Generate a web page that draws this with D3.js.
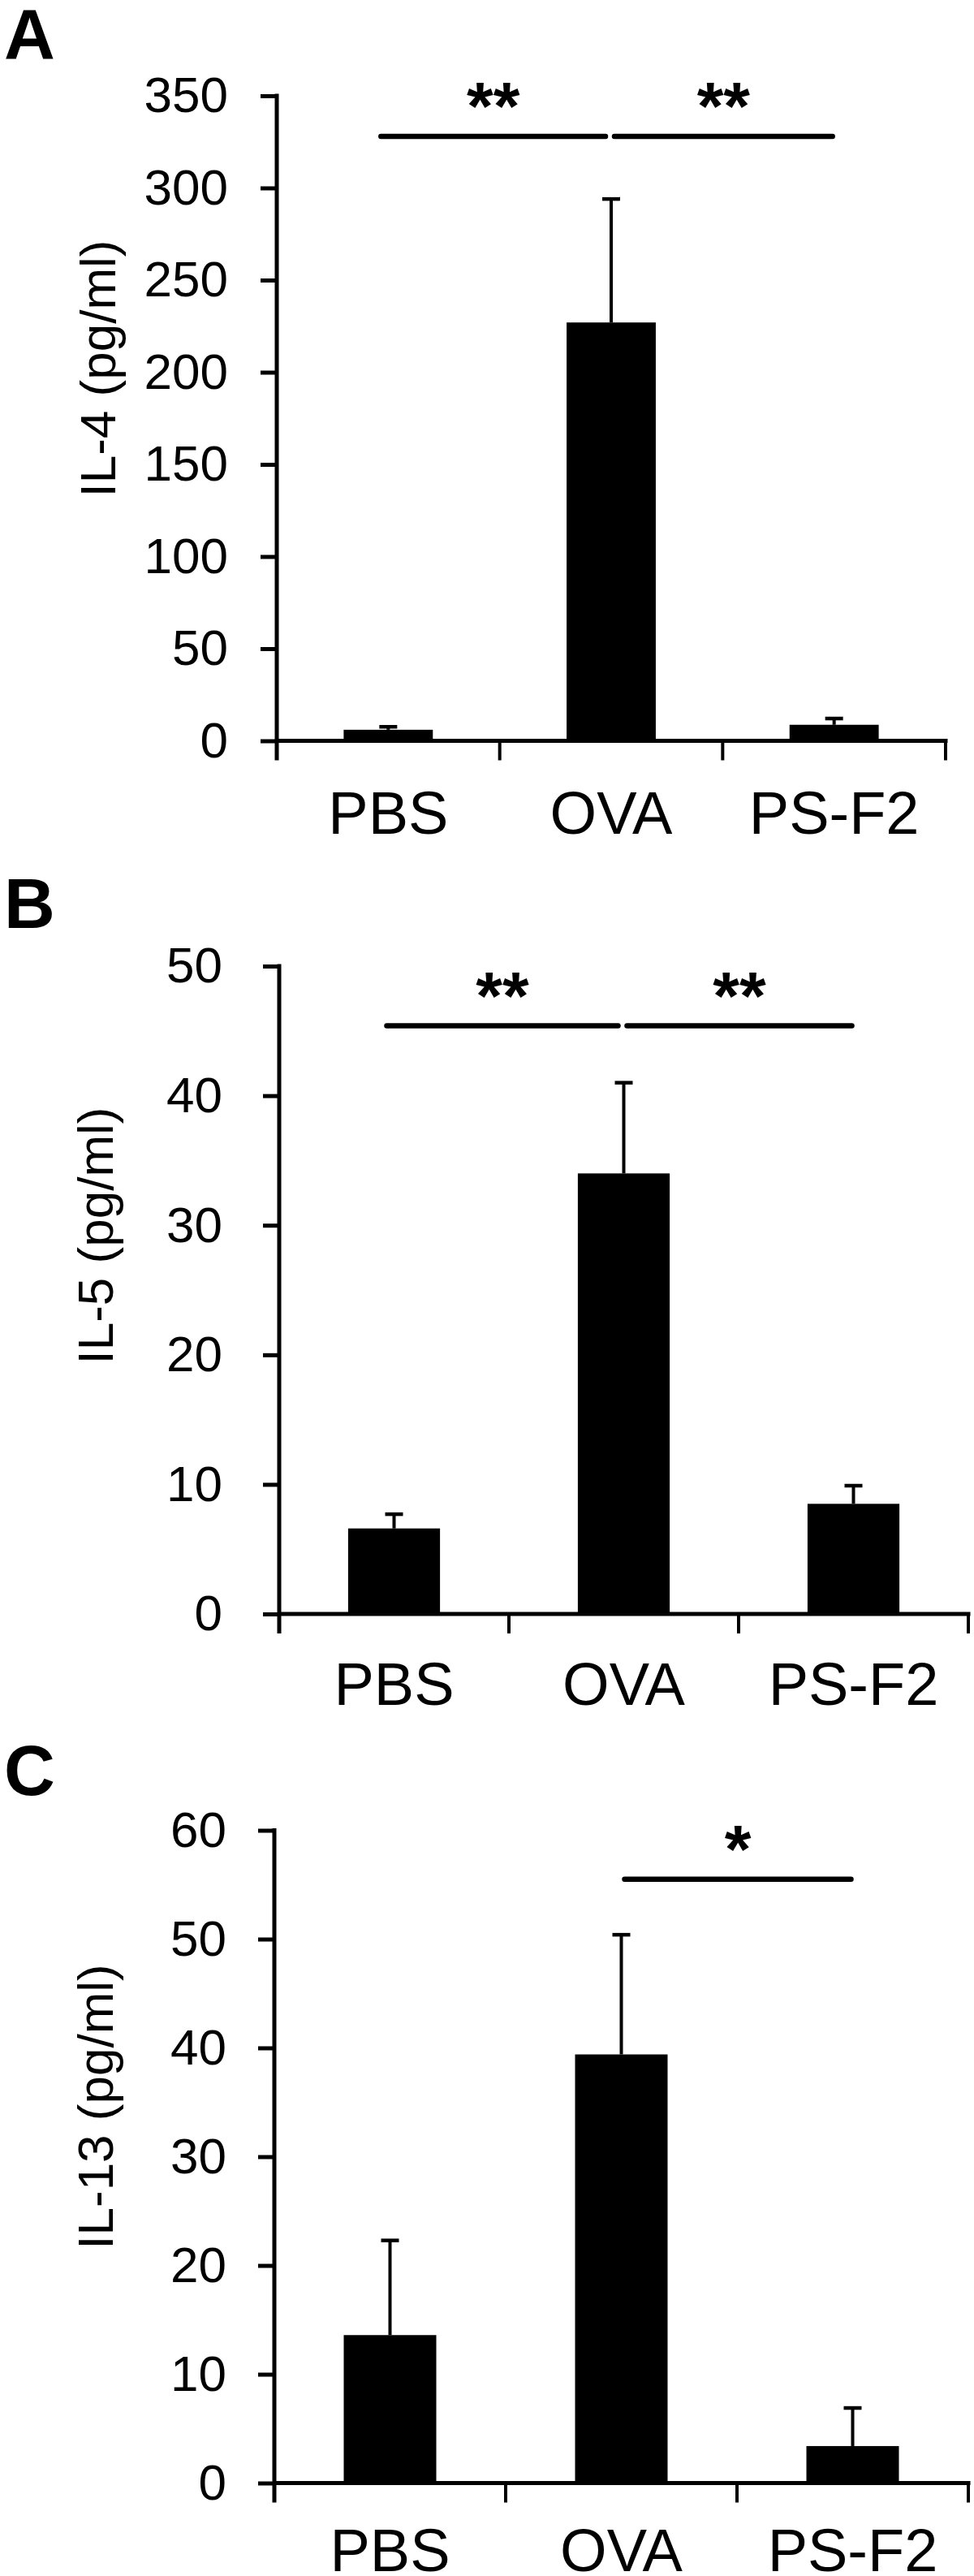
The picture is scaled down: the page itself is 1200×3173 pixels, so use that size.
<!DOCTYPE html>
<html>
<head>
<meta charset="utf-8">
<script src="https://cdn.jsdelivr.net/npm/d3@7"></script>
<style>
  html, body { margin: 0; padding: 0; background: #fff; }
  svg { display: block; }
  text { font-family: Arial, "Liberation Sans", sans-serif; fill: #000; }
</style>
</head>
<body>
<script>
// ---- Data ----
const categories = ["PBS", "OVA", "PS-F2"];

const il4Mean = [6.0, 227, 8.7];
const il4Err  = [1.6, 67, 3.4];
const il4Ticks = [0, 50, 100, 150, 200, 250, 300, 350];

const il5Mean = [6.6, 34.0, 8.5];
const il5Err  = [1.1, 7.0, 1.4];
const il5Ticks = [0, 10, 20, 30, 40, 50];

const il13Mean = [13.6, 39.4, 3.4];
const il13Err  = [8.7, 11.0, 3.5];
const il13Ticks = [0, 10, 20, 30, 40, 50, 60];

const il4Sig  = [["PBS", "OVA", "**"], ["OVA", "PS-F2", "**"]];
const il5Sig  = [["PBS", "OVA", "**"], ["OVA", "PS-F2", "**"]];
const il13Sig = [["OVA", "PS-F2", "*"]];
const sigLevels = [328, 45.4, 55.5];

const panelLetters = ["A", "B", "C"];
const yTitles = ["IL-4 (pg/ml)", "IL-5 (pg/ml)", "IL-13 (pg/ml)"];

// ---- Layout (positions only) ----
const layouts = [
  {x0: 341, x1: 1165, yTop: 118,  y0: 912.5, tickPad: 40, xLabDy: 114, yLabX: 142, yLabY: 454,  letterY: 72},
  {x0: 344, x1: 1193, yTop: 1190, y0: 1988,  tickPad: 50, xLabDy: 112, yLabX: 139, yLabY: 1522, letterY: 1143},
  {x0: 338, x1: 1193, yTop: 2254.5, y0: 3058.5, tickPad: 39, xLabDy: 108, yLabX: 139, yLabY: 2595, letterY: 2211}
];

const panels = [
  {mean: il4Mean, err: il4Err, ticks: il4Ticks, sig: il4Sig},
  {mean: il5Mean, err: il5Err, ticks: il5Ticks, sig: il5Sig},
  {mean: il13Mean, err: il13Err, ticks: il13Ticks, sig: il13Sig}
];

const W = 1200, H = 3173;
const svg = d3.select("body").append("svg").attr("width", W).attr("height", H);
svg.append("rect").attr("width", W).attr("height", H).attr("fill", "#fff");

const AX = 5;          // axis stroke width
const TICK = 20;       // y tick length
const XTICK = 24;      // x tick length below axis
const STAR = 84;       // significance star font size

panels.forEach((p, i) => {
  const L = layouts[i];
  const g = svg.append("g");
  const yMax = p.ticks[p.ticks.length - 1];
  const y = d3.scaleLinear().domain([0, yMax]).range([L.y0, L.yTop]);
  const x = d3.scaleBand().domain(categories).range([L.x0, L.x1])
              .paddingInner(0.6).paddingOuter(0.3);
  const step = x.step();
  const cx = c => x(c) + x.bandwidth() / 2;

  // Panel letter
  g.append("text").attr("x", 5).attr("y", L.letterY)
    .attr("font-size", 87).attr("font-weight", "bold").text(panelLetters[i]);

  // Bars
  g.selectAll("rect.bar").data(categories).join("rect")
    .attr("class", "bar")
    .attr("x", c => x(c)).attr("width", x.bandwidth())
    .attr("y", (c, k) => y(p.mean[k]))
    .attr("height", (c, k) => L.y0 - y(p.mean[k]))
    .attr("fill", "#000");

  // Error bars (upper only)
  const eb = g.selectAll("g.eb").data(categories).join("g").attr("class", "eb");
  eb.append("line")
    .attr("x1", c => cx(c)).attr("x2", c => cx(c))
    .attr("y1", (c, k) => y(p.mean[k]))
    .attr("y2", (c, k) => y(p.mean[k] + p.err[k]))
    .attr("stroke", "#000").attr("stroke-width", 4);
  eb.append("line")
    .attr("x1", c => cx(c) - 11).attr("x2", c => cx(c) + 11)
    .attr("y1", (c, k) => y(p.mean[k] + p.err[k]))
    .attr("y2", (c, k) => y(p.mean[k] + p.err[k]))
    .attr("stroke", "#000").attr("stroke-width", 4.5);

  // Y axis
  const yAxis = d3.axisLeft(y).tickValues(p.ticks).tickSize(TICK).tickSizeOuter(0)
    .tickPadding(L.tickPad).tickFormat(d3.format("d"));
  const ya = g.append("g").attr("transform", `translate(${L.x0},0)`).call(yAxis);
  ya.select(".domain").remove();
  ya.selectAll(".tick line").attr("stroke", "#000").attr("stroke-width", AX);
  ya.selectAll(".tick text").attr("font-size", 62)
    .attr("font-family", 'Arial, "Liberation Sans", sans-serif').attr("fill", "#000");
  g.append("line").attr("x1", L.x0).attr("x2", L.x0)
    .attr("y1", L.yTop - AX / 2).attr("y2", L.y0 + XTICK)
    .attr("stroke", "#000").attr("stroke-width", AX);

  // X axis line
  g.append("line").attr("x1", L.x0).attr("x2", L.x1 + AX / 2)
    .attr("y1", L.y0).attr("y2", L.y0)
    .attr("stroke", "#000").attr("stroke-width", AX);
  // Category boundary ticks
  const bounds = d3.range(categories.length + 1).map(k => L.x0 + k * step);
  g.selectAll("line.xt").data(bounds.slice(1)).join("line")
    .attr("class", "xt")
    .attr("x1", d => d).attr("x2", d => d)
    .attr("y1", L.y0).attr("y2", L.y0 + XTICK)
    .attr("stroke", "#000").attr("stroke-width", 4);

  // X labels
  g.selectAll("text.xl").data(categories).join("text")
    .attr("class", "xl")
    .attr("x", c => cx(c)).attr("y", L.y0 + L.xLabDy)
    .attr("text-anchor", "middle").attr("font-size", 74).text(c => c);

  // Y title
  g.append("text")
    .attr("transform", `translate(${L.yLabX},${L.yLabY}) rotate(-90)`)
    .attr("text-anchor", "middle").attr("font-size", 62).text(yTitles[i]);

  // Significance
  const ly = y(sigLevels[i]);
  p.sig.forEach(([a, b, lab]) => {
    const leftPair = categories.indexOf(a) === 0;
    const xs = leftPair ? cx(a) - 9 : cx(a) + 4;
    const xe = leftPair ? cx(b) - 7 : cx(b) - 2;
    g.append("line").attr("x1", xs).attr("x2", xe).attr("y1", ly).attr("y2", ly)
      .attr("stroke", "#000").attr("stroke-width", 6.5).attr("stroke-linecap", "round");
    g.append("text").attr("x", (xs + xe) / 2).attr("y", ly - 68 + 0.716 * STAR)
      .attr("text-anchor", "middle").attr("font-size", STAR).attr("font-weight", "bold").text(lab);
  });
});
</script>
</body>
</html>
